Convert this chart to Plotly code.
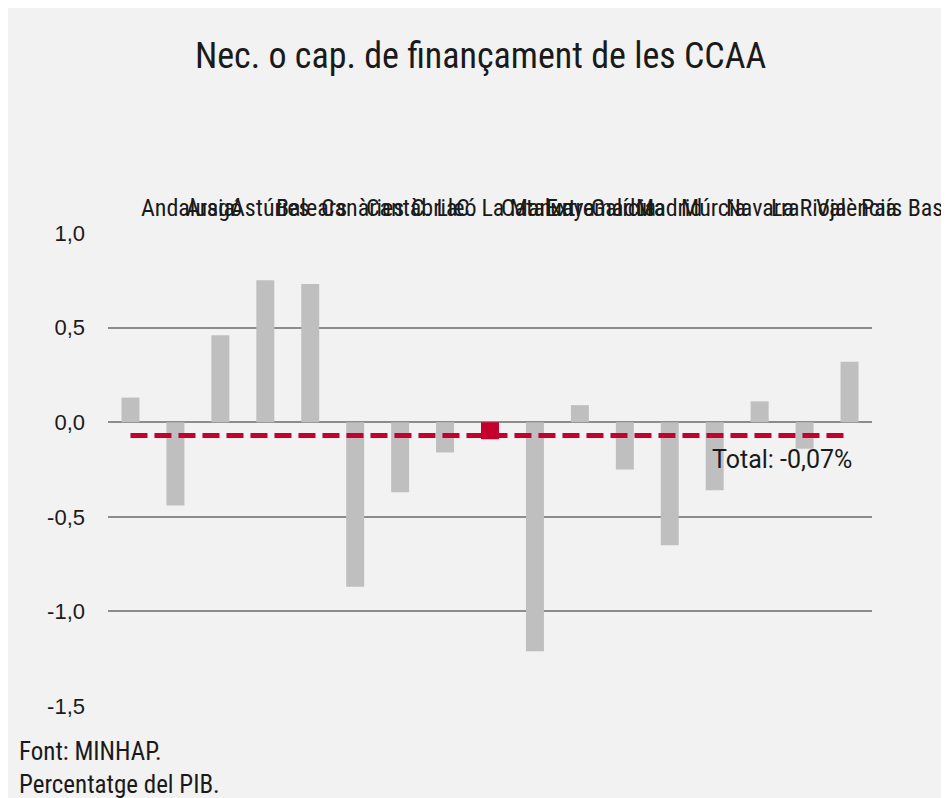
import plotly.graph_objects as go

categories = ["Andalusia", "Aragó", "Astúries", "Balears", "Canàries", "Cantàbria",
              "C. Lleó", "C. La Manxa", "Catalunya", "Extremadura", "Galícia", "Madrid",
              "Múrcia", "Navarra", "La Rioja", "València", "País Basc"]
values = [0.13, -0.44, 0.46, 0.75, 0.73, -0.87, -0.37, -0.16, -0.09, -1.21,
          0.09, -0.25, -0.65, -0.36, 0.11, -0.14, 0.32]
highlight = "Catalunya"
total = -0.07
total_label = "Total: -0,07%"
tick_vals = [1.0, 0.5, 0.0, -0.5, -1.0, -1.5]
tick_text = ["1,0", "0,5", "0,0", "-0,5", "-1,0", "-1,5"]

NARROW = "Liberation Sans Narrow, Roboto Condensed, Arial Narrow, sans-serif"
GRAY = "#bfbfbf"
RED = "#c4002f"
TXT = "#1a1a1a"

colors = [RED if c == highlight else GRAY for c in categories]

fig = go.Figure()
fig.add_trace(go.Bar(x=categories, y=values, marker_color=colors, width=0.4,
                     marker_line_width=0, showlegend=False))
fig.add_trace(go.Scatter(x=categories, y=[total] * len(categories), mode="lines",
                         line=dict(color=RED, width=5, dash="17px,7px"),
                         showlegend=False))

for c in categories:
    fig.add_annotation(x=c, y=1.0, yref="y", xref="x", text=c, showarrow=False,
                       xanchor="left", yanchor="bottom", xshift=9, yshift=9,
                       font=dict(family=NARROW, size=24, color=TXT))

fig.add_annotation(x=categories[-1], y=total, xref="x", yref="y", text=total_label,
                   showarrow=False, xanchor="right", yanchor="top", xshift=4, yshift=-8,
                   font=dict(family="Roboto, sans-serif", size=25, color=TXT))

fig.add_annotation(x=0, y=0, xref="paper", yref="paper", xanchor="left", yanchor="top",
                   text="Font: MINHAP.<br>Percentatge del PIB.", align="left",
                   xshift=-91, yshift=-28, showarrow=False,
                   font=dict(family=NARROW, size=25, color=TXT))

fig.update_layout(
    width=949, height=798,
    paper_bgcolor="#f2f2f2", plot_bgcolor="#f2f2f2",
    margin=dict(l=100, r=85, t=224, b=99),
    title=dict(text="Nec. o cap. de finançament de les CCAA", xref="container",
               x=0.498, xanchor="center", yref="container", y=0.941, yanchor="middle",
               font=dict(family=NARROW, size=36, color=TXT)),
    bargap=0.6,
)
fig.update_xaxes(range=[-0.5, 16.5], showticklabels=False, showgrid=False,
                 zeroline=False, showline=False)
fig.update_yaxes(range=[-1.505, 1.005], tickvals=tick_vals, ticktext=tick_text,
                 showgrid=True, gridcolor="#8c8c8c", gridwidth=2,
                 zeroline=True, zerolinecolor="#8c8c8c", zerolinewidth=2,
                 showline=False, ticks="", ticklabelstandoff=22,
                 tickfont=dict(family="Liberation Sans, Arial, sans-serif", size=22,
                               color=TXT))

fig.write_html("out.html")
